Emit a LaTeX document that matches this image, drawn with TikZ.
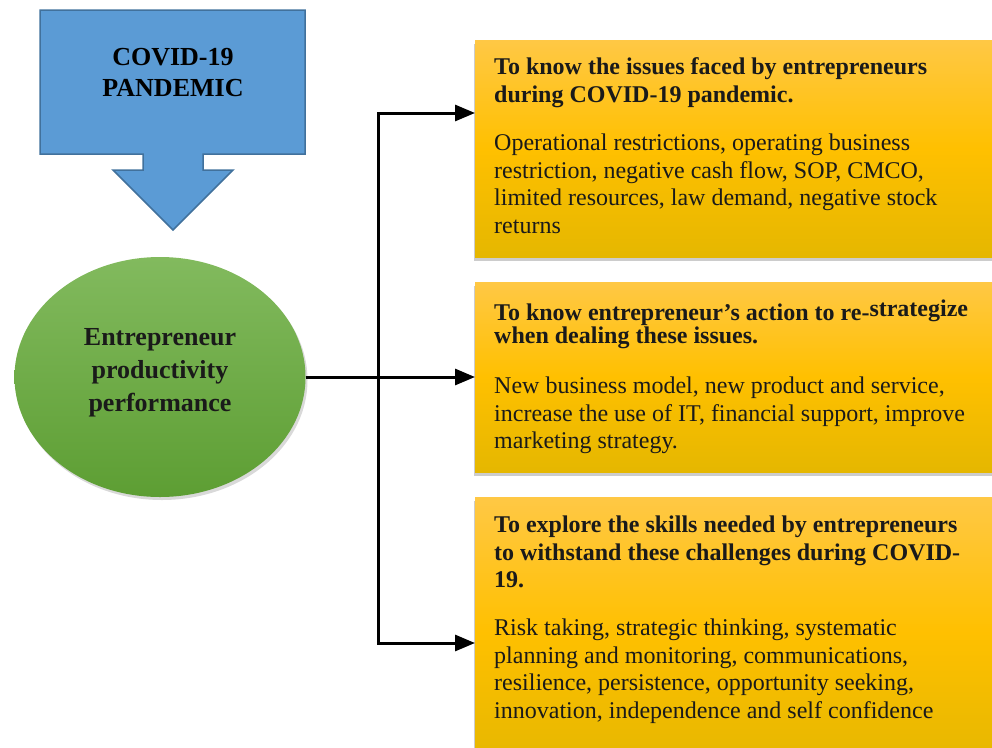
\documentclass[tikz,border=0pt]{standalone}
\usepackage{fontspec}
\setmainfont{Liberation Serif}
\usetikzlibrary{shapes.geometric,shadows,arrows.meta}

\definecolor{bluefill}{HTML}{5B9BD5}
\definecolor{blueedge}{HTML}{41719C}
\definecolor{greentop}{HTML}{82BA5E}
\definecolor{greenbot}{HTML}{5D9E33}
\definecolor{goldtop}{HTML}{FFC845}
\definecolor{goldmid}{HTML}{FFC000}
\definecolor{goldbot}{HTML}{E5B700}
\definecolor{inktext}{HTML}{1A1A1A}

\tikzset{
  goldbox/.style={draw=none, inner sep=0pt, outer sep=0pt, anchor=north west,
    minimum width=540pt,
    top color=goldtop, bottom color=goldbot, middle color=goldmid,
    drop shadow={opacity=0.4, shadow xshift=-1pt, shadow yshift=-4pt}},
  goalhead/.style={inner sep=0pt, anchor=north west, align=left, text=inktext,
    font=\fontsize{24}{28.5}\selectfont\bfseries},
  goalbody/.style={inner sep=0pt, anchor=north west, align=left, text=inktext,
    font=\fontsize{24}{27.5}\selectfont},
  link/.style={line width=3pt, line cap=rect},
  linkarrow/.style={line width=3pt, -{Triangle[length=20pt,width=16pt]}},
}

\begin{document}
\begin{tikzpicture}[x=1pt,y=-1pt]
\useasboundingbox (0,0) rectangle (992,747);
\clip (0,0) rectangle (992,747);

% blue down-arrow callout
\draw[fill=bluefill, draw=blueedge, line width=1.5pt, line join=miter]
  (40,10) -- (305,10) -- (305,154) -- (203,154) -- (203,170) -- (233,170)
  -- (173,230) -- (113,170) -- (143,170) -- (143,154) -- (40,154) -- cycle;
\node[inner sep=0pt, align=center, font=\fontsize{26}{31}\selectfont\bfseries]
  (covid) at (173,73) {COVID-19\\PANDEMIC};

% central ellipse and its label
\node[ellipse, draw=none, minimum width=291pt, minimum height=240pt,
      top color=greentop, bottom color=greenbot,
      drop shadow={opacity=0.3, shadow xshift=2pt, shadow yshift=-3pt}]
  (core) at (160,377) {};
\node[inner sep=0pt, align=center, text=inktext,
      font=\fontsize{26}{33}\selectfont\bfseries]
  (corelabel) at (160,373) {Entrepreneur\\productivity\\performance};

% goal boxes
\node[goldbox, minimum height=217pt] (goal1) at (475,40) {};
\node[goldbox, minimum height=190pt] (goal2) at (475,282) {};
\node[goldbox, minimum height=270pt] (goal3) at (475,497) {};

\node[goalhead] (head1) at (494,57) {To know the issues faced by entrepreneurs\\during COVID-19 pandemic.};
\node[goalbody] (body1) at (494,134) {Operational restrictions, operating business\\restriction, negative cash flow, SOP, CMCO,\\limited resources, law demand, negative stock\\returns};

\node[goalhead, font=\fontsize{24}{23}\selectfont\bfseries] (head2) at (494,304)
  {To know entrepreneur’s action to re-\raisebox{4pt}[0pt][0pt]{strategize}\\when dealing these issues.};
\node[goalbody] (body2) at (494,377) {New business model, new product and service,\\increase the use of IT, financial support, improve\\marketing strategy.};

\node[goalhead, font=\fontsize{24}{27.5}\selectfont\bfseries] (head3) at (494,516)
  {To explore the skills needed by entrepreneurs\\to withstand these challenges during COVID-\\19.};
\node[goalbody] (body3) at (494,619) {Risk taking, strategic thinking, systematic\\planning and monitoring, communications,\\resilience, persistence, opportunity seeking,\\innovation, independence and self confidence};

% connectors
\coordinate (trunktop) at (378,113);
\coordinate (trunkbot) at (378,643);
\draw[link] (trunktop) -- (trunkbot);
\draw[linkarrow] (core.east) -- (core.east -| goal2.west);
\draw[linkarrow] (trunktop) -- (trunktop -| goal1.west);
\draw[linkarrow] (trunkbot) -- (trunkbot -| goal3.west);
\end{tikzpicture}
\end{document}
